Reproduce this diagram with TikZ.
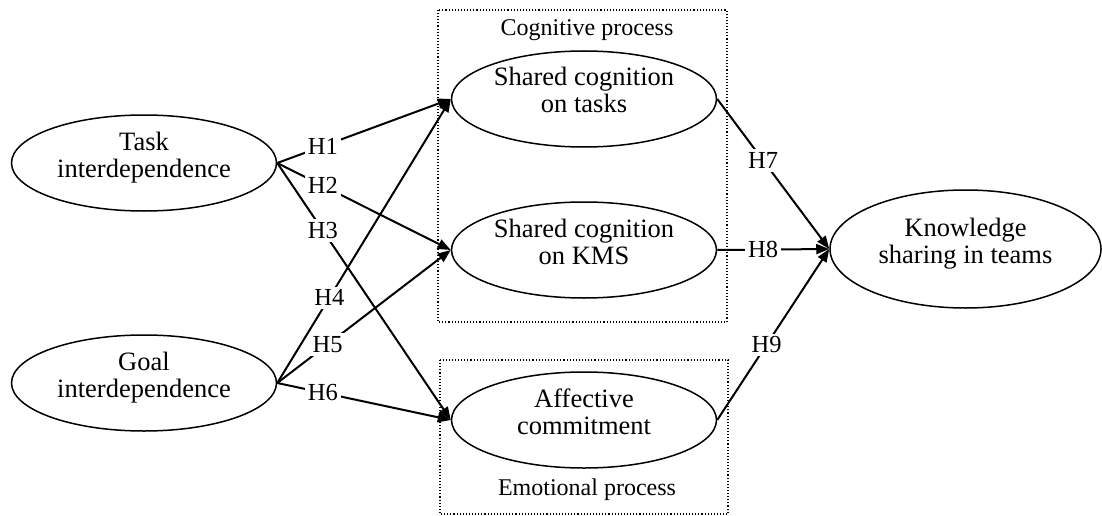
\documentclass[tikz,border=0pt]{standalone}
\usepackage{fontspec}
\setmainfont{Liberation Serif}
\usetikzlibrary{shapes.geometric, arrows.meta, positioning}
\tikzstyle{construct} = [ellipse, draw, line width=1.5pt, minimum width=265pt, minimum height=96pt, inner sep=0pt, align=center, text height=44pt, text depth=16pt, font=\fontsize{26.5}{27}\selectfont]
\tikzstyle{hypoArrow} = [line width=2pt, -{Triangle[length=13pt, width=10pt]}]
\tikzstyle{hypoLabel} = [fill=white, inner sep=3pt, font=\fontsize{24.5}{24}\selectfont]
\tikzstyle{processBox} = [draw, dotted, line width=1.1pt]
\tikzstyle{processText} = [font=\fontsize{24}{24}\selectfont]

\begin{document}
\begin{tikzpicture}[x = 1pt, y = -1pt]
  \useasboundingbox (0,0) rectangle (1102,516);

  % process frames
  \draw [processBox] (438,10) rectangle (727,322);
  \draw [processBox] (440,360) rectangle (728,514);
  \node [processText] (cogLabel) at (587,30) {Cognitive process};
  \node [processText] (emoLabel) at (587,490) {Emotional process};

  % constructs
  \node [construct] (taskInter) at (144,163) {Task\\interdependence};
  \node [construct] (goalInter) at (144,383) {Goal\\interdependence};
  \node [construct] (sharedTasks) at (584,99) {Shared cognition\\on tasks};
  \node [construct] (sharedKms) at (584,250) {Shared cognition\\on KMS};
  \node [construct] (affective) at (584,420) {Affective\\commitment};
  \node [construct, minimum width=271pt, minimum height=118pt] (knowledge) at (965.5,249) {Knowledge\\sharing in teams};

  % hypotheses
  \draw [hypoArrow] (taskInter.east) -- node [hypoLabel, pos=.263] (h1) {H1} (sharedTasks.west);
  \draw [hypoArrow] (taskInter.east) -- node [hypoLabel, pos=.263] (h2) {H2} (sharedKms.west);
  \draw [hypoArrow] (taskInter.east) -- node [hypoLabel, pos=.263] (h3) {H3} (affective.west);
  \draw [hypoArrow] (goalInter.east) -- node [hypoLabel, pos=.3] (h4) {H4} (sharedTasks.west);
  \draw [hypoArrow] (goalInter.east) -- node [hypoLabel, pos=.29] (h5) {H5} (sharedKms.west);
  \draw [hypoArrow] (goalInter.east) -- node [hypoLabel, pos=.263] (h6) {H6} (affective.west);
  \draw [hypoArrow] (sharedTasks.east) -- node [hypoLabel, pos=.41] (h7) {H7} (knowledge.west);
  \draw [hypoArrow] (sharedKms.east) -- node [hypoLabel, pos=.41] (h8) {H8} (knowledge.west);
  \draw [hypoArrow] (affective.east) -- node [hypoLabel, pos=.44] (h9) {H9} (knowledge.west);
\end{tikzpicture}
\end{document}
